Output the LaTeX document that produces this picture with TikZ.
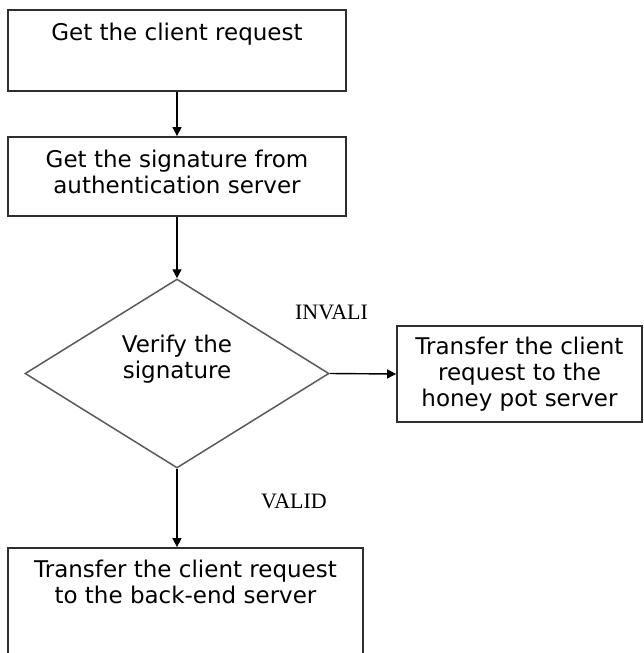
\documentclass[tikz,border=0pt]{standalone}
\usepackage{fontspec}
\setmainfont{DejaVu Sans}
\newfontfamily\lblfont{Liberation Serif}
\usetikzlibrary{shapes.geometric,arrows.meta}
\definecolor{boxline}{HTML}{2E2E2E}
\definecolor{diamline}{HTML}{5A5A5A}
\tikzset{
  box/.style={draw=boxline, line width=1.8pt, rectangle, inner sep=0pt},
  decision/.style={draw=diamline, line width=1.5pt, diamond, inner sep=0pt},
  txt/.style={font=\fontsize{23}{26}\selectfont, align=center, anchor=base, inner sep=0pt},
  lbl/.style={font=\lblfont\fontsize{22}{26}\selectfont, anchor=base, inner sep=0pt},
  conn/.style={draw=black, line width=1.4pt, -{Triangle[length=9pt,width=9pt]}}
}
\begin{document}
\begin{tikzpicture}[x=1pt,y=-1pt]
\clip (0,0) rectangle (643,653);
\fill[white] (0,0) rectangle (643,653);
% boxes
\node[box, minimum width=338pt, minimum height=81pt] (b1) at (177,50.5) {};
\node[box, minimum width=338pt, minimum height=79pt] (b2) at (177,176.5) {};
\node[decision, minimum width=304pt, minimum height=189pt] (d) at (177,373.5) {};
\node[box, minimum width=245pt, minimum height=96pt] (hp) at (519.5,374) {};
\node[box, minimum width=355pt, minimum height=140pt] (be) at (185.5,618) {};
% texts (base anchor = baseline of last line)
\node[txt] (t1) at (177,40) {Get the client request};
\node[txt] (t2) at (177,193) {Get the signature from\\authentication server};
\node[txt] (t3) at (177,378) {Verify the\\signature};
\node[txt] (t4) at (519.5,406) {Transfer the client\\request to the\\honey pot server};
\node[txt] (t5) at (185.5,603) {Transfer the client request\\to the back-end server};
% labels
\node[lbl] (inv) at (331.5,319) {INVALI};
\node[lbl] (val) at (294,508) {VALID};
% connectors
\draw[conn] (b1.south) -- (b2.north);
\draw[conn] (b2.south) -- (d.north);
\draw[conn] (d.east) -- (hp.west);
\draw[conn] (d.south) -- (d.south |- be.north);
\end{tikzpicture}
\end{document}
